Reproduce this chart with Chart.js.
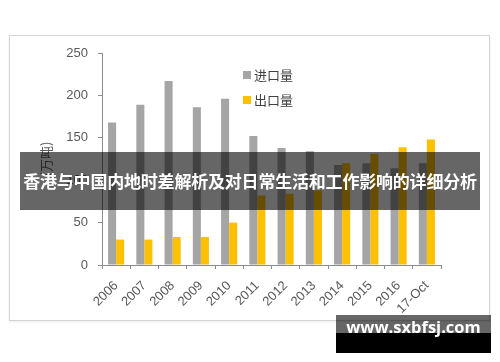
<!DOCTYPE html>
<html>
<head>
<meta charset="utf-8">
<script src="https://cdn.jsdelivr.net/npm/chart.js@4/dist/chart.umd.min.js"></script>
<style>
  html, body { margin: 0; padding: 0; background: #fff; }
  #wrap { position: relative; width: 500px; height: 362px; overflow: hidden; }
  #frame { position: absolute; left: 9px; top: 35px; width: 479px; height: 284px; border: 1px solid #d4d4d4; box-shadow: 0 1px 2px rgba(0,0,0,0.08); }
  canvas { position: absolute; left: 0; top: 0; }
  #banner { position: absolute; left: 20px; top: 152px; width: 460px; height: 58px; background: rgba(0,0,0,0.6);
    color: #fff; font: bold 17px "Noto Sans CJK SC", sans-serif; line-height: 58px; text-align: center; white-space: nowrap; letter-spacing: -0.2px; }
  #mark { position: absolute; left: 336px; top: 315px; width: 155px; height: 38px; background: rgba(0,0,0,0.6); }
  #mark .low { position: absolute; left: 0; top: 18px; width: 155px; height: 20px; background: #000; }
  #mark .txt { position: absolute; left: 0; top: 0; width: 155px; height: 38px; line-height: 40px; text-align: center;
    color: #fff; font: bold 16.5px "Open Sans", "DejaVu Sans", sans-serif; }
</style>
</head>
<body>
<div id="wrap">
  <div id="frame"></div>
  <canvas id="chart" width="500" height="362"></canvas>
  <div id="banner">香港与中国内地时差解析及对日常生活和工作影响的详细分析</div>
  <div id="mark"><div class="low"></div><div class="txt">www.sxbfsj.com</div></div>
</div>
<script>
// 年份
const years = ['2006', '2007', '2008', '2009', '2010', '2011', '2012', '2013', '2014', '2015', '2016', '17-Oct'];
// 进口量 (万吨)
const importVolume = [168, 189, 217, 186, 196, 152, 138, 134, 118, 120, 114, 120];
// 出口量 (万吨)
const exportVolume = [30, 30, 33, 33, 50, 82, 84, 88, 120, 131, 139, 148];
const yTicks = [0, 50, 100, 150, 200, 250];

const axisColor = '#8c8c8c';
const textColor = '#595959';

// legend drawn inside the plot, top right
const innerLegend = {
    id: 'innerLegend',
    afterDraw(chart) {
        const ctx = chart.ctx;
        ctx.save();
        ctx.font = '13px "Noto Sans CJK SC", sans-serif';
        ctx.textBaseline = 'middle';
        chart.data.datasets.forEach((ds, i) => {
            const y = 75 + i * 25;
            ctx.fillStyle = ds.backgroundColor;
            ctx.fillRect(243, y - 4, 8, 8);
            ctx.fillStyle = '#404040';
            ctx.fillText(ds.label, 254, y);
        });
        ctx.restore();
    }
};

new Chart(document.getElementById('chart').getContext('2d'), {
    type: 'bar',
    data: {
        labels: years,
        datasets: [
            { label: '进口量', data: importVolume, backgroundColor: '#a5a5a5' },
            { label: '出口量', data: exportVolume, backgroundColor: '#ffc000' }
        ]
    },
    options: {
        responsive: false,
        animation: false,
        layout: { padding: { left: 0, top: 53, right: 59, bottom: 0 } },
        datasets: { bar: { categoryPercentage: 0.57, barPercentage: 1 } },
        plugins: {
            legend: { display: false },
            tooltip: { enabled: false }
        },
        scales: {
            x: {
                grid: { drawOnChartArea: false, tickLength: 4, color: axisColor },
                border: { color: axisColor },
                ticks: {
                    color: textColor,
                    font: { family: '"Liberation Sans", sans-serif', size: 13 },
                    minRotation: 45, maxRotation: 45, padding: 9
                },
                afterFit(scale) { scale.height = 97; }
            },
            y: {
                min: 0, max: 250,
                grid: { drawOnChartArea: false, tickLength: 4, color: axisColor },
                border: { color: axisColor },
                afterBuildTicks(scale) { scale.ticks = yTicks.map(v => ({ value: v })); },
                ticks: {
                    color: textColor,
                    font: { family: '"Liberation Sans", sans-serif', size: 13 },
                    padding: 10
                },
                title: {
                    display: true,
                    text: '(万吨)',
                    color: textColor,
                    font: { family: '"Noto Sans CJK SC", sans-serif', size: 13 },
                    padding: { top: 38, bottom: 0 }
                },
                afterFit(scale) { scale.width = 102; }
            }
        }
    },
    plugins: [innerLegend]
});
</script>
</body>
</html>
